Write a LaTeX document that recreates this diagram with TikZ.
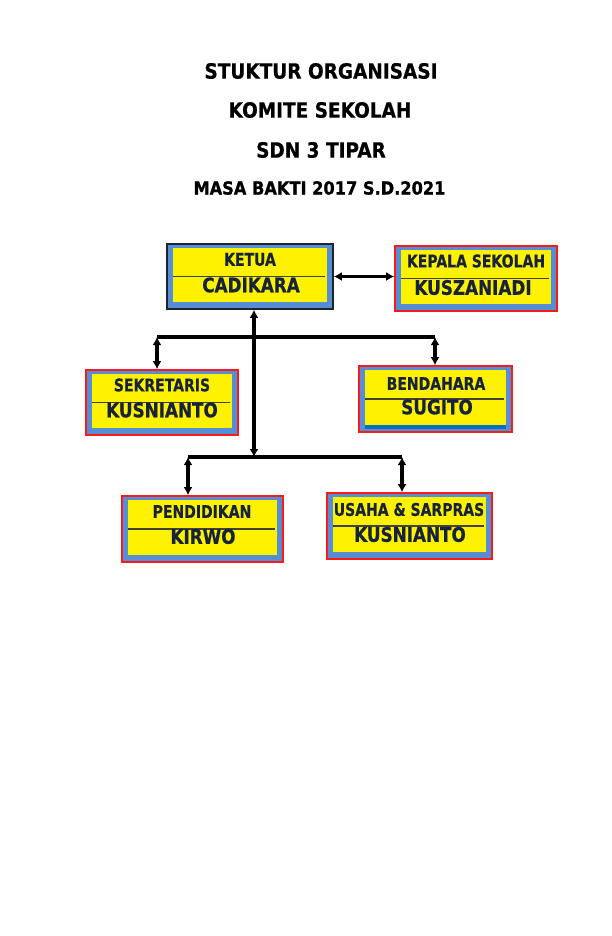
\documentclass[tikz,border=0pt]{standalone}
\usepackage{fontspec}
\setmainfont{DejaVu Sans}
\newfontfamily\topfont{DejaVu Sans Bold}[FakeBold=0.5, FakeStretch=0.80]
\newfontfamily\botfont{DejaVu Sans Bold}[FakeBold=0.7, FakeStretch=0.84]
\newfontfamily\titlefont{DejaVu Sans Bold}[FakeBold=0.6, FakeStretch=0.88]
\newfontfamily\widefont{DejaVu Sans Bold}[FakeBold=0.9, FakeStretch=0.9]
\usetikzlibrary{arrows.meta,calc}
\definecolor{bandblue}{HTML}{558ED5}
\definecolor{darkblue}{HTML}{0070C0}
\definecolor{txtnavy}{HTML}{17223B}
\definecolor{redline}{HTML}{FF1A1A}
\definecolor{ketuaedge}{HTML}{1F2433}
\tikzset{
  orgframe/.style={draw=#1, line width=1.6pt, fill=bandblue, inner sep=0pt},
  innerfill/.style={fill=yellow},
  sepline/.style={line width=1.3pt, draw=black!85!yellow},
  toplabel/.style={font=\topfont\fontsize{17.5}{19}\selectfont, text=txtnavy, inner sep=0pt},
  botlabel/.style={font=\botfont\fontsize{20}{22}\selectfont, text=txtnavy, inner sep=0pt},
  titletext/.style={font=\titlefont\fontsize{21}{23}\selectfont, text=black, inner sep=0pt},
  conn/.style={line width=3.4pt, draw=black},
  dblarrow/.style={conn, {Latex[length=8pt,width=9pt]}-{Latex[length=8pt,width=9pt]}},
}
% name, cx, cy(px, down), w, h, edge colour, sep y(px)
\newcommand\orgbox[7]{%
  \node[orgframe=#6, minimum width=#4pt, minimum height=#5pt] (#1) at (#2,-#3) {};
  \fill[innerfill] ($(#1.north west)+(7,-5)$) rectangle ($(#1.south east)+(-7,8)$);
  \draw[sepline] ($(#1.west)+(7,0)$ |- 0,-#7) -- ($(#1.east)+(-9,0)$ |- 0,-#7);
}
\begin{document}
\begin{tikzpicture}[x=1pt,y=1pt]
\useasboundingbox (0,0) rectangle (612,-936);
\fill[white] (0,0) rectangle (612,-936);

% titles
\node[titletext] (t1) at (321,-71) {STUKTUR ORGANISASI};
\node[titletext] (t2) at (320,-110) {KOMITE SEKOLAH};
\node[titletext] (t3) at (321,-150) {SDN 3 TIPAR};
\node[font=\widefont\fontsize{18}{20}\selectfont, inner sep=0pt] (t4) at (319.5,-188) {MASA BAKTI 2017 S.D.2021};

% boxes
\orgbox{ketua}{250}{276.5}{166}{65}{ketuaedge}{272.5}
\orgbox{kepsek}{476}{278.5}{162}{65}{redline}{270.7}
\orgbox{sekre}{162}{402.5}{152}{65}{redline}{397.5}
\orgbox{benda}{435.5}{399}{153}{66}{redline}{395}
\orgbox{pendi}{202.5}{529}{161}{66}{redline}{524.3}
\orgbox{usaha}{409.5}{526}{165}{66}{redline}{521.5}
\fill[darkblue] ($(benda.south west)+(7,4)$) rectangle ($(benda.south east)+(-7,8)$);

% labels
\node[toplabel] (ketua-top) at (250,-259.5) {KETUA};
\node[botlabel] (ketua-bot) at (251,-285) {CADIKARA};
\node[toplabel] (kepsek-top) at (476,-261) {KEPALA SEKOLAH};
\node[botlabel] (kepsek-bot) at (473,-287.5) {KUSZANIADI};
\node[toplabel] (sekre-top) at (162,-385) {SEKRETARIS};
\node[botlabel] (sekre-bot) at (162,-410) {KUSNIANTO};
\node[toplabel] (benda-top) at (436,-383.5) {BENDAHARA};
\node[botlabel] (benda-bot) at (437,-407) {SUGITO};
\node[toplabel] (pendi-top) at (202,-511.5) {PENDIDIKAN};
\node[botlabel] (pendi-bot) at (203,-536.5) {KIRWO};
\node[toplabel] (usaha-top) at (409,-509.5) {USAHA \& SARPRAS};
\node[botlabel] (usaha-bot) at (410,-534.5) {KUSNIANTO};

% connector points
\coordinate (topL) at (157,-337);
\coordinate (topR) at (435,-337);
\coordinate (botL) at (188,-457);
\coordinate (botR) at (402,-457);
\coordinate (mainTop) at ($(ketua.south)+(4,0)$);
\coordinate (mainBot) at (mainTop |- botL);

% connectors
\draw[dblarrow] (ketua.east) -- (ketua.east -| kepsek.west);
\draw[dblarrow] (mainTop) -- (mainBot);
\draw[conn] (topL) -- (topR);
\draw[conn] (botL) -- (botR);
\draw[dblarrow] (topL) -- (topL |- sekre.north);
\draw[dblarrow] (topR) -- (topR |- benda.north);
\draw[dblarrow] (botL) -- (botL |- pendi.north);
\draw[dblarrow] (botR) -- (botR |- usaha.north);
\end{tikzpicture}
\end{document}
